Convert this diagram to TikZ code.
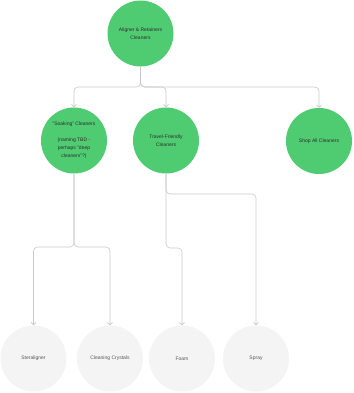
\documentclass[tikz,border=0pt]{standalone}
\usepackage{fontspec}
\setmainfont{Liberation Sans}
\usetikzlibrary{arrows.meta}
\definecolor{grn}{HTML}{4FCB72}
\definecolor{lgray}{HTML}{F4F4F4}
\definecolor{lnc}{HTML}{C8C8C8}
\definecolor{txt}{HTML}{2E2E2E}
\tikzset{
  greenc/.style={circle, fill=grn, minimum size=66pt, inner sep=0pt, align=center, text=txt, font=\fontsize{5}{8}\selectfont},
  grayc/.style={circle, fill=lgray, minimum size=66pt, inner sep=0pt, align=center, text=txt!80, font=\fontsize{5}{8}\selectfont},
  conn/.style={draw=lnc, line width=0.6pt, rounded corners=4pt, -{Straight Barb[length=2.5pt,width=5pt]}}
}
\begin{document}
\begin{tikzpicture}[x=1pt,y=-1pt]
\useasboundingbox (0,0) rectangle (353,393);
\node[greenc] (top) at (140.5,33.5) {Aligner \& Retainers\\Cleaners};
\node[greenc] (soak) at (74,140.5) {"Soaking" Cleaners\\[8pt](naming TBD -\\perhaps "deep\\cleaners"?)};
\node[greenc] (trav) at (166,140.5) {Travel-Friendly\\Cleaners};
\node[greenc] (shop) at (319,141) {Shop All Cleaners};
\node[grayc] (ster) at (33.5,358.5) {Steraligner};
\node[grayc] (crys) at (110,358.5) {Cleaning Crystals};
\node[grayc] (foam) at (182,358.5) {Foam};
\node[grayc] (spray) at (256,358.5) {Spray};
\coordinate (j0) at (140.5,87);
\coordinate (j1) at (74,247);
\coordinate (j2) at (166,194);
\coordinate (j3) at (166,248);
\draw[conn] (top.south) -- (j0) -| (soak.north);
\draw[conn] (top.south) -- (j0) -| (trav.north);
\draw[conn] (top.south) -- (j0) -| (shop.north);
\draw[conn] (soak.south) -- (j1) -| (ster.north);
\draw[conn] (soak.south) -- (j1) -| (crys.north);
\draw[conn] (trav.south) -- (j2) -| (spray.north);
\draw[conn] (trav.south) -- (j3) -| (foam.north);
\end{tikzpicture}
\end{document}
